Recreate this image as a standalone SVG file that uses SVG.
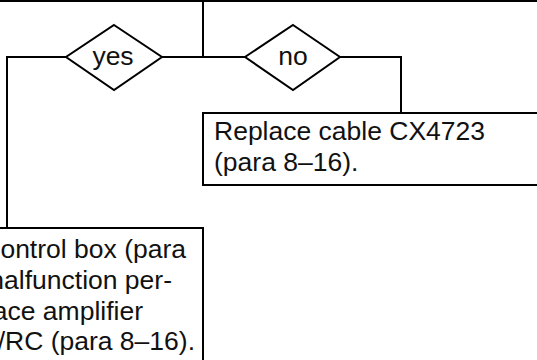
<svg xmlns="http://www.w3.org/2000/svg" width="537" height="360" viewBox="0 0 537 360">
<style>
.box{fill:#fff;stroke:#000;stroke-width:2}
.dia{fill:#fff;stroke:#000;stroke-width:2;stroke-linejoin:miter}
.ln{fill:none;stroke:#000;stroke-width:2}
text{font-family:"Liberation Sans",Arial,sans-serif;font-size:26.5px;fill:#111}
</style>
<rect width="537" height="360" fill="#fff"/>
<g id="connectors">
<polyline class="ln" points="203,1 203,57"/>
<polyline class="ln" points="162,57 245,57"/>
<polyline class="ln" points="66,57 7,57 7,228"/>
<polyline class="ln" points="340,57 401,57 401,113"/>
</g>
<g id="top-box"><rect class="box" x="-10" y="-60" width="557" height="61"/></g>
<g id="yes"><polygon class="dia" points="114,25 162,57 114,90 66,57"/><text x="113" y="65" text-anchor="middle">yes</text></g>
<g id="no"><polygon class="dia" points="293,25 340,57 293,90 245,57"/><text x="293" y="65" text-anchor="middle">no</text></g>
<g id="replace-cable"><rect class="box" x="203" y="113" width="344" height="72"/>
<text x="214" y="140">Replace cable CX4723</text><text x="214" y="171">(para 8–16).</text></g>
<g id="replace-control"><rect class="box" x="-10" y="228" width="213" height="150"/>
<text x="186" y="258" text-anchor="end">ontrol box (para</text>
<text x="172" y="289" text-anchor="end">nalfunction per-</text>
<text x="143" y="320" text-anchor="end">ace amplifier</text>
<text x="195" y="350" text-anchor="end">/RC (para 8–16).</text></g>
</svg>
